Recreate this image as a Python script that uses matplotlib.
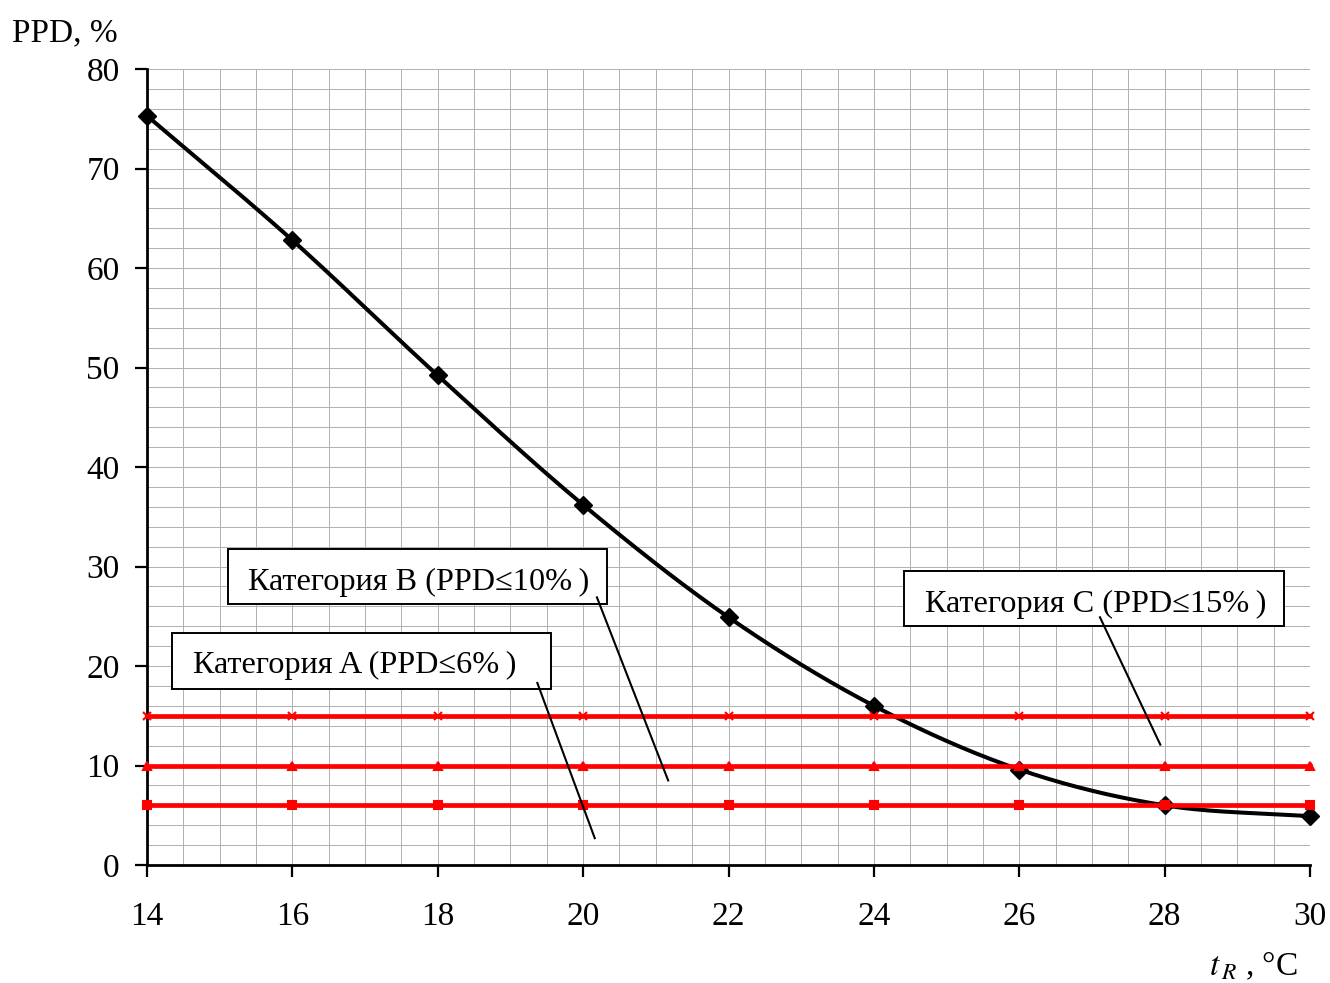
import numpy as np
import matplotlib.pyplot as plt
from matplotlib.patches import Rectangle

# data
t_r = [14, 16, 18, 20, 22, 24, 26, 28, 30]
ppd = [75.3, 62.8, 49.2, 36.2, 24.9, 16.0, 9.6, 6.0, 4.9]

cat_levels = [15, 10, 6]
cat_markers = ['x', '^', 's']
cat_labels = ['Категория A (PPD≤6%\u2009)', 'Категория B (PPD≤10%\u2009)', 'Категория C (PPD≤15%\u2009)']


def smooth(x, y, n=30):
    # catmull-rom style smoothing, like the smoothed line in excel
    x = np.asarray(x, float)
    y = np.asarray(y, float)
    px = np.concatenate([[2 * x[0] - x[1]], x, [2 * x[-1] - x[-2]]])
    py = np.concatenate([[2 * y[0] - y[1]], y, [2 * y[-1] - y[-2]]])
    xs, ys = [], []
    for i in range(1, len(px) - 2):
        t = np.linspace(0, 1, n, endpoint=False)
        for p, out in ((px, xs), (py, ys)):
            p0, p1, p2, p3 = p[i - 1], p[i], p[i + 1], p[i + 2]
            out.extend(0.5 * (2 * p1 + (-p0 + p2) * t + (2 * p0 - 5 * p1 + 4 * p2 - p3) * t ** 2
                              + (-p0 + 3 * p1 - 3 * p2 + p3) * t ** 3))
    xs.append(x[-1])
    ys.append(y[-1])
    return xs, ys


plt.rcParams['font.family'] = ['Liberation Serif', 'DejaVu Serif']

fig = plt.figure(figsize=(13.3, 9.83), dpi=100)
ax = fig.add_axes([0.1105, 0.12, 0.8745, 0.8098])

sx, sy = smooth(t_r, ppd)
ax.plot(sx, sy, color='black', lw=2.9, zorder=3)
ax.plot(t_r, ppd, 'D', color='black', ms=9.5, zorder=3, clip_on=False)

for lev, mk in zip(cat_levels, cat_markers):
    ax.plot(t_r, [lev] * len(t_r), color='#ff0000', lw=3.4, marker=mk, ms=5.5,
            mew=1.5, zorder=4, clip_on=False)

ax.set_xlim(14, 30)
ax.set_ylim(0, 80)
ax.set_xticks(np.arange(14, 31, 2))
ax.set_yticks(np.arange(0, 81, 10))
ax.set_xticks(np.arange(14, 30.01, 0.5), minor=True)
ax.set_yticks(np.arange(0, 80.01, 2), minor=True)
ax.grid(True, which='both', color='#b0b0b0', lw=0.7, zorder=0)
ax.tick_params(which='minor', length=0)
ax.tick_params(which='major', length=8.6, width=1.6, labelsize=24, direction='out')
ax.tick_params(axis='x', pad=18)
ax.tick_params(axis='y', pad=11)
for s in ['top', 'right']:
    ax.spines[s].set_visible(False)
for s in ['left', 'bottom']:
    ax.spines[s].set_linewidth(2)
ax.set_axisbelow(True)

# callout boxes and leader lines
boxes = [(14.344, 17.69, 5.214, 5.63), (15.114, 26.23, 5.214, 5.53), (24.414, 24.02, 5.228, 5.53)]
text_pos = [(14.633, 19.3), (15.389, 27.64), (24.703, 25.43)]
leaders = [([19.37, 20.16], [18.3, 2.7]), ([20.19, 21.17], [26.9, 8.5]), ([27.11, 27.94], [24.9, 12.1])]
for (bx, by, bw, bh), (tx, ty), lab in zip(boxes, text_pos, cat_labels):
    ax.add_patch(Rectangle((bx, by), bw, bh, fc='white', ec='black', lw=1.4, zorder=5))
    ax.text(tx, ty, lab, fontsize=23.2, va='baseline', ha='left', zorder=6)
for lx, ly in leaders:
    ax.plot(lx, ly, color='black', lw=1.5, zorder=6)

fig.text(0.009, 0.958, 'PPD, %', fontsize=24, va='baseline', ha='left')
fig.text(0.976, 0.008, r'$\mathit{t}_{\,\mathit{R}}$ , °C', fontsize=24, va='baseline', ha='right',
         math_fontfamily='stix')

fig.savefig('out.png', dpi=100)
